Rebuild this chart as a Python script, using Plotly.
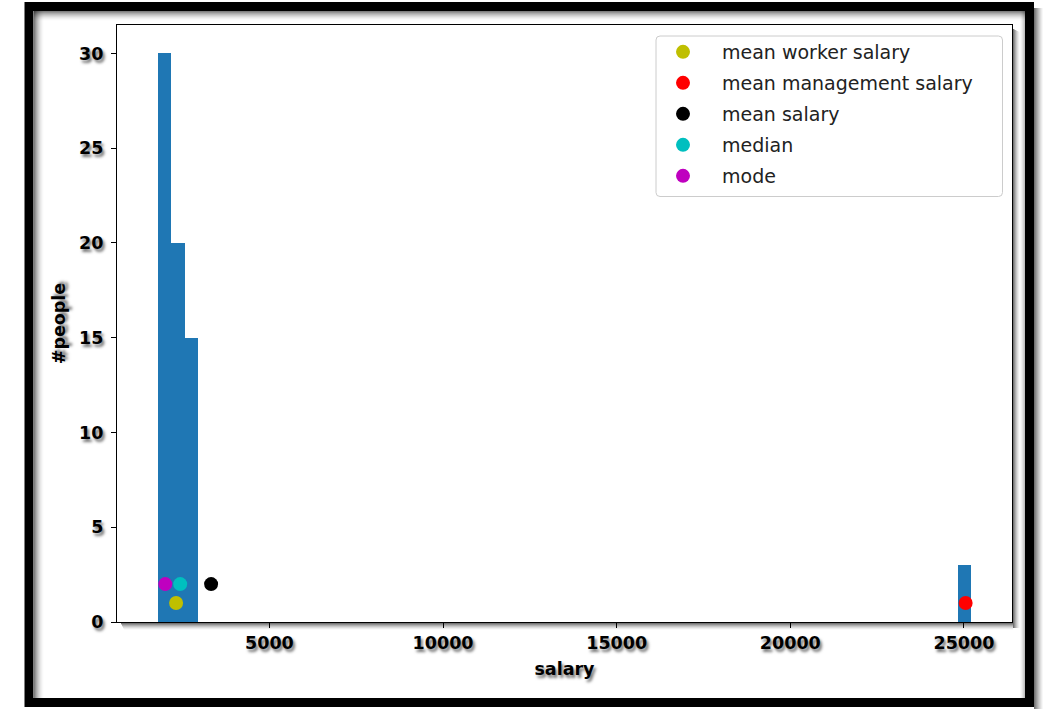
import plotly.graph_objects as go

# Histogram of salaries (60 equal bins between the smallest and largest salary);
# only the non-empty bins are listed.
bin_width = 390.5
bin_lefts = [1782.0, 2172.5, 2563.0, 24822.5]
bin_counts = [30, 20, 15, 3]

# Summary statistics drawn as dots, with the height each one is drawn at
stat_names = ["mean worker salary", "mean management salary", "mean salary", "median", "mode"]
stat_values = [2312, 25050, 3320, 2430, 2000]
stat_heights = [1, 1, 2, 2, 2]
stat_colors = ["#bfbf00", "#ff0000", "#000000", "#00bfbf", "#bf00bf"]

x_ticks = [5000, 10000, 15000, 20000, 25000]
x_tick_labels = ["5000", "10000", "15000", "20000", "25000"]
y_ticks = [0, 5, 10, 15, 20, 25, 30]

W, H = 1043, 709
L, R, T, B = 117, 31, 25, 87
PW, PH = W - L - R, H - T - B


def fx(p):
    """pixel column -> paper x"""
    return (p - L) / PW


def fy(p):
    """pixel row -> paper y"""
    return (H - B - p) / PH


FONT = "DejaVu Sans"
SHADOW = "2px 3px 3px rgba(0,0,0,0.55)"
LABEL_FONT = dict(family=FONT, size=17.5, color="black", weight="bold", shadow=SHADOW)

fig = go.Figure()
fig.add_trace(go.Bar(
    x=bin_lefts, y=bin_counts, width=bin_width, offset=0,
    marker=dict(color="#1f77b4", line=dict(width=0)),
    showlegend=False, hoverinfo="skip",
))
for name, val, h, col in zip(stat_names, stat_values, stat_heights, stat_colors):
    fig.add_trace(go.Scatter(
        x=[val], y=[h], mode="markers", name=name, legendgroup=name,
        marker=dict(color=col, size=14, line=dict(width=0)),
    ))

shapes = []


def hline(y, x0, x1, color, w=1):
    shapes.append(dict(type="line", xref="paper", yref="paper",
                       x0=fx(x0), x1=fx(x1), y0=fy(y), y1=fy(y),
                       line=dict(color=color, width=w), layer="above"))


def vline(x, y0, y1, color, w=1):
    shapes.append(dict(type="line", xref="paper", yref="paper",
                       x0=fx(x), x1=fx(x), y0=fy(y0), y1=fy(y1),
                       line=dict(color=color, width=w), layer="above"))


# drop shadow of the axes box (right and bottom)
for i in range(7):
    a = 0.55 * (1 - i / 7) ** 1.6
    vline(1013.5 + i, 29 + i * 0.5, 628, f"rgba(0,0,0,{a:.3f})")
    hline(623.5 + i, 121 + i * 0.5, 1013, f"rgba(0,0,0,{a:.3f})")

# inner shading of the outer frame (top and left)
for i in range(10):
    a = 0.5 * (1 - i / 10) ** 1.8
    vline(34.5 + i, 11, 698, f"rgba(0,0,0,{a:.3f})")
    hline(11.5 + i, 34, 1025, f"rgba(0,0,0,{a:.3f})")
# faint inner shading on the right
for i in range(5):
    a = 0.25 * (1 - i / 5) ** 1.5
    vline(1024.5 - i, 11, 698, f"rgba(0,0,0,{a:.3f})")
# outer shadow right of the frame
for i in range(9):
    a = 0.55 * (1 - i / 9) ** 1.3
    vline(1034.5 + i, 8, 709, f"rgba(0,0,0,{a:.3f})")

# thick outer frame
shapes.append(dict(type="rect", xref="paper", yref="paper",
                   x0=fx(29), x1=fx(1029.5), y0=fy(6.5), y1=fy(702.5),
                   line=dict(color="black", width=9), fillcolor="rgba(0,0,0,0)",
                   layer="above"))

# rounded legend box
lx0, lx1, ly0, ly1, r = 656, 1002.5, 36, 196.5, 4
rx, ry = r / PW, r / PH
X0, X1, Y0, Y1 = fx(lx0), fx(lx1), fy(ly0), fy(ly1)
path = (f"M {X0+rx},{Y0} L {X1-rx},{Y0} Q {X1},{Y0} {X1},{Y0-ry} "
        f"L {X1},{Y1+ry} Q {X1},{Y1} {X1-rx},{Y1} L {X0+rx},{Y1} "
        f"Q {X0},{Y1} {X0},{Y1+ry} L {X0},{Y0-ry} Q {X0},{Y0} {X0+rx},{Y0} Z")
shapes.append(dict(type="path", xref="paper", yref="paper", path=path,
                   line=dict(color="#cccccc", width=1), fillcolor="rgba(255,255,255,0.8)",
                   layer="above"))

axis_common = dict(
    showgrid=False, zeroline=False, showline=True, linecolor="black",
    linewidth=1.3, mirror=True, ticks="outside", ticklen=5, tickwidth=1.3,
    tickcolor="black", tickfont=LABEL_FONT,
)

fig.update_layout(
    width=W, height=H, autosize=False,
    margin=dict(l=L, r=R, t=T, b=B, pad=0),
    paper_bgcolor="white", plot_bgcolor="white",
    font=dict(family=FONT, size=19, color="black"),
    bargap=0,
    xaxis=dict(range=[610, 26385], tickvals=x_ticks, ticktext=x_tick_labels,
               title=dict(text="salary", standoff=10, font=LABEL_FONT),
               **axis_common),
    yaxis=dict(range=[0, 31.5], tickvals=y_ticks, ticklabelstandoff=4,
               title=dict(text="#people", standoff=8, font=LABEL_FONT),
               **axis_common),
    legend=dict(x=fx(644), y=fy(ly0 - 3), xanchor="left", yanchor="top",
                bgcolor="rgba(0,0,0,0)", borderwidth=0, itemwidth=68,
                tracegroupgap=3.3,
                font=dict(family=FONT, size=19, color="#222222")),
    shapes=shapes,
)

fig.write_html("out.html")
